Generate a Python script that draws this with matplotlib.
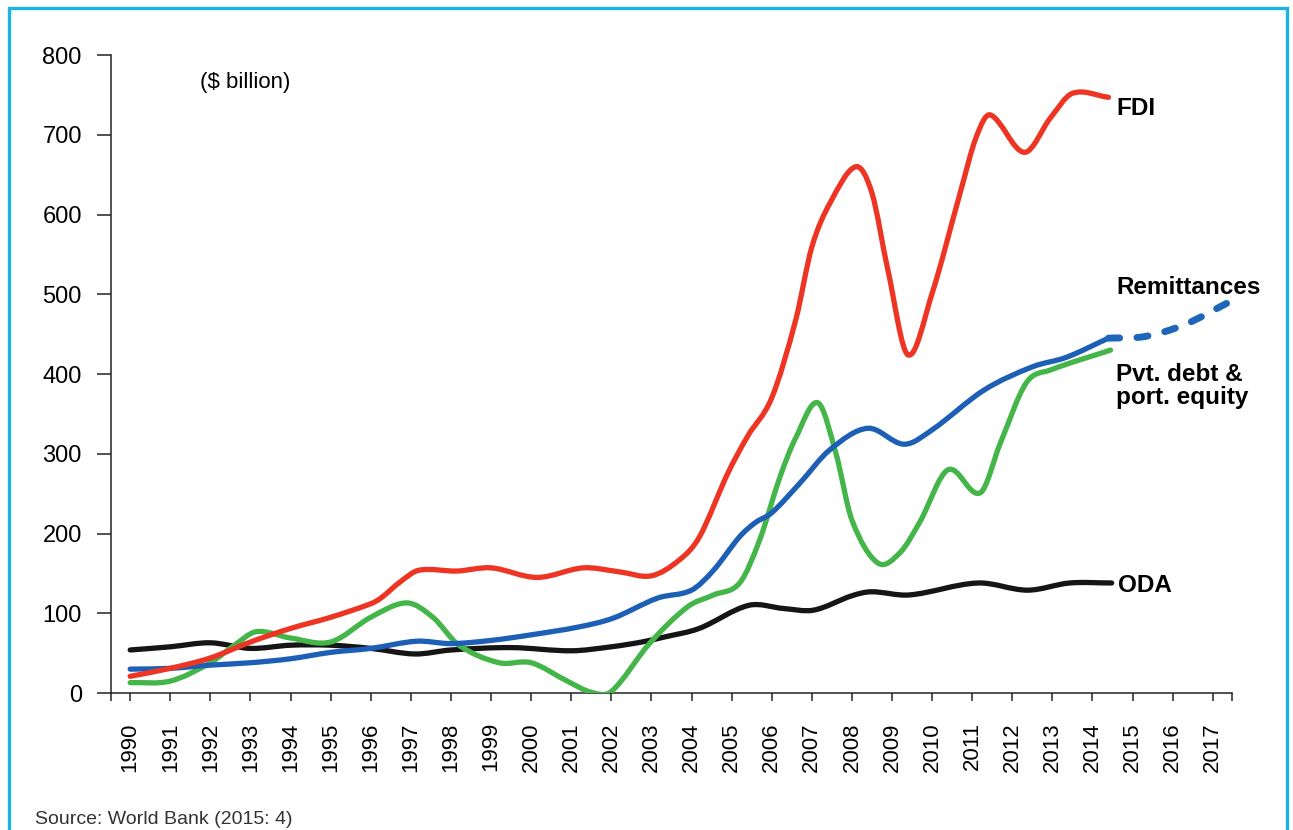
import numpy as np
import matplotlib
matplotlib.use("Agg")
import matplotlib.pyplot as plt
from matplotlib.path import Path
from matplotlib.patches import PathPatch, Rectangle

plt.rcParams['font.family'] = ['Liberation Sans', 'DejaVu Sans']

# values ($ billion), x in fractional years
fdi_x = [1990, 1991, 1992, 1993, 1994, 1995, 1996, 1996.25, 1996.75, 1997.2,
         1998.15, 1999.0, 2000.15, 2001.3, 2002.2, 2003.0, 2003.7, 2004.2,
         2004.9, 2005.4, 2006.0, 2006.6, 2007.0, 2007.45, 2008.1, 2008.5,
         2008.9, 2009.4, 2010.0, 2010.7, 2011.1, 2011.45, 2012.3, 2012.95,
         2013.5, 2014.4]
fdi_y = [21, 31, 44, 64, 81, 95, 112, 119, 140, 154,
         153, 157, 145, 157, 152, 147, 167, 196,
         275, 322, 370, 468, 559, 614, 660, 627,
         530, 424, 501, 627, 697, 725, 678, 721,
         752, 747]

rem_x = [1990, 1991, 1992, 1993, 1994, 1995, 1996, 1997.15, 1998.0, 1999.0,
         2000.0, 2001.2, 2002.05, 2003.15, 2004.0, 2004.55, 2005.2, 2005.6,
         2006.0, 2006.7, 2007.45, 2008.4, 2009.3, 2010.0, 2011.3, 2012.5,
         2013.35, 2014.4]
rem_y = [30, 31, 35, 38, 43, 51, 56, 65, 62, 66,
         73, 83, 94, 119, 129, 154, 196, 214,
         226, 263, 305, 332, 312, 330, 380, 409,
         421, 445]
rem_proj_x = [2014.4, 2015.3, 2016.3, 2017.4]
rem_proj_y = [445, 447, 462, 490]

pvt_x = [1990, 1991, 1992, 1992.6, 1993.15, 1994, 1995, 1996, 1996.9, 1997.55,
         1998.2, 1999.2, 2000.0, 2000.9, 2001.5, 2002.0, 2002.95, 2003.9,
         2004.55, 2005.2, 2005.7, 2006.2, 2006.6, 2007.15, 2007.6, 2008.0,
         2008.65, 2009.2, 2009.7, 2010.4, 2011.2, 2011.7, 2012.35, 2012.95,
         2014.45]
pvt_y = [13, 15, 38, 60, 77, 69, 64, 95, 113, 95,
         60, 38, 38, 15, 1, 2, 62, 108,
         123, 138, 192, 270, 320, 364, 301, 217,
         163, 176, 215, 280, 251, 313, 389, 405,
         430]

oda_x = [1990, 1991, 1992, 1993, 1994, 1995, 1996, 1997.1, 1998, 1999.5,
         2001.0, 2002.0, 2002.76, 2003.3, 2004.19, 2005.43, 2006.3, 2007.05,
         2008.0, 2008.48, 2009.43, 2011.14, 2012.38, 2013.43, 2014.48]
oda_y = [54, 58, 63, 56, 60, 60, 56, 49, 54, 57,
         53, 58, 64, 70, 81, 110, 106, 104,
         122, 127, 123, 138, 129, 138, 138]

years = list(range(1990, 2018))


def smooth_path(xs, ys):
    """Hermite curve through the points, as bezier segments"""
    x = np.asarray(xs, float)
    y = np.asarray(ys, float)
    n = len(x)
    m = np.zeros(n)
    m[0] = (y[1] - y[0]) / (x[1] - x[0])
    m[-1] = (y[-1] - y[-2]) / (x[-1] - x[-2])
    m[1:-1] = (y[2:] - y[:-2]) / (x[2:] - x[:-2])
    verts = [(x[0], y[0])]
    codes = [Path.MOVETO]
    for i in range(n - 1):
        h = x[i + 1] - x[i]
        verts += [(x[i] + h / 3, y[i] + m[i] * h / 3),
                  (x[i + 1] - h / 3, y[i + 1] - m[i + 1] * h / 3),
                  (x[i + 1], y[i + 1])]
        codes += [Path.CURVE4] * 3
    return Path(verts, codes)


def draw(ax, xs, ys, color, lw=3.8, ls='-'):
    patch = PathPatch(smooth_path(xs, ys), facecolor='none', edgecolor=color,
                      lw=lw, ls=ls, capstyle='round', joinstyle='round',
                      zorder=3)
    ax.add_patch(patch)


fig = plt.figure(figsize=(12.93, 8.30), dpi=100)
ax = fig.add_axes([0.0858, 0.165, 0.867, 0.7687])

draw(ax, oda_x, oda_y, '#151515')
draw(ax, pvt_x, pvt_y, '#44b649')
draw(ax, rem_x, rem_y, '#1e5fb6')
draw(ax, rem_proj_x, rem_proj_y, '#1e66ba', lw=5, ls=(0, (1.6, 2.5)))
draw(ax, fdi_x, fdi_y, '#ee3524')

ax.set_xlim(1989.52, 2017.48)
ax.set_ylim(0, 800)
ax.spines['top'].set_visible(False)
ax.spines['right'].set_visible(False)
for s in ('left', 'bottom'):
    ax.spines[s].set_linewidth(1.1)
    ax.spines[s].set_color('#222222')

ax.set_yticks(range(0, 801, 100))
ax.tick_params(axis='y', length=10, width=1.1, pad=11, labelsize=17,
               color='#222222')
ax.set_xticks(years)
ax.set_xticklabels([str(y) for y in years], rotation=90)
ax.set_xticks([1989.52, 2017.48], minor=True)
ax.tick_params(axis='x', which='both', length=6, width=1.1, pad=15,
               labelsize=16, color='#222222')

ax.text(1991.75, 766, '($ billion)', fontsize=16, va='center', ha='left')
lab = dict(fontsize=17.5, fontweight='bold', ha='left', va='center')
ax.text(2014.59, 733, 'FDI', **lab)
ax.text(2014.59, 508, 'Remittances', **lab)
ax.text(2014.59, 385, 'Pvt. debt &\nport. equity', linespacing=1.0, **lab)
ax.text(2014.64, 135, 'ODA', **lab)

fig.text(0.027, 0.003, 'Source: World Bank (2015: 4)', fontsize=14,
         color='#333333', ha='left', va='bottom')

fig.patches.append(Rectangle((0.0066, -0.05), 0.9888, 1.04,
                             transform=fig.transFigure, fill=False,
                             edgecolor='#1db3e0', lw=2.4))

fig.savefig('out.png', dpi=100)
